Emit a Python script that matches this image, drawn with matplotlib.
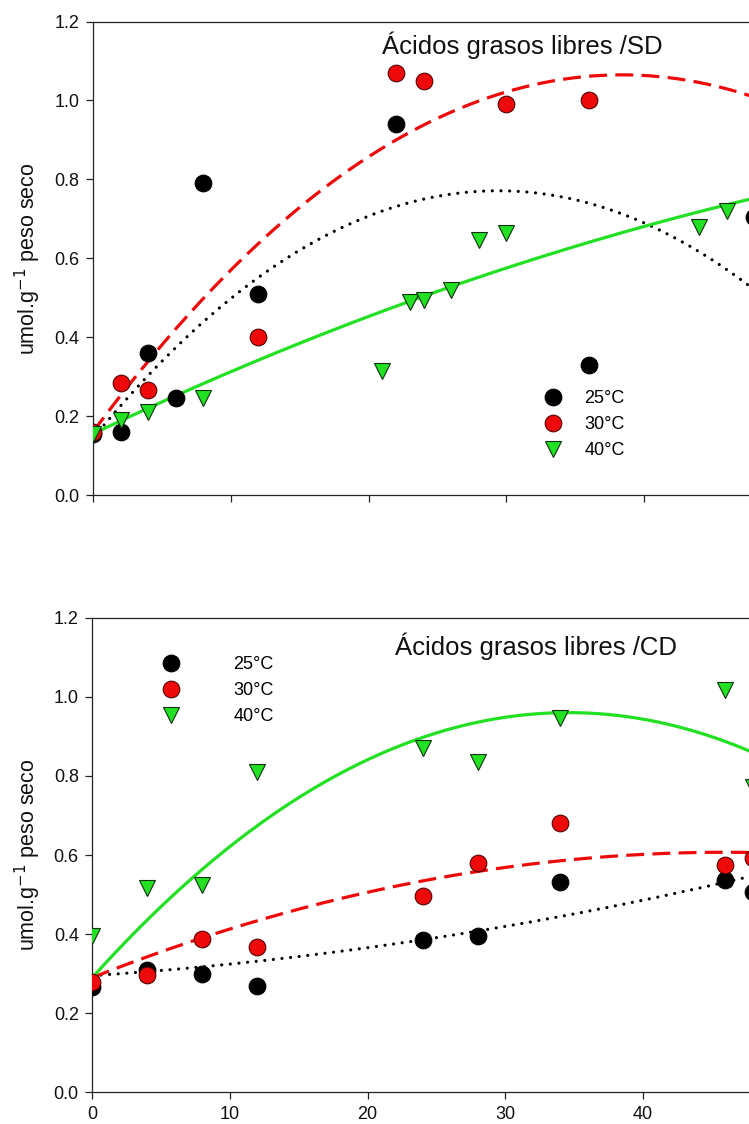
import numpy as np
import matplotlib
matplotlib.use("Agg")
import matplotlib.pyplot as plt
from matplotlib.lines import Line2D

plt.rcParams['font.family'] = ['Liberation Sans', 'DejaVu Sans']

# Free fatty acids (umol/g dry weight) vs time, SD treatment
hours_sd_25 = [0, 2, 4, 6, 8, 12, 22, 36, 48]
sd_25 = [0.155, 0.16, 0.36, 0.245, 0.79, 0.51, 0.94, 0.33, 0.705]
hours_sd_30 = [0, 2, 4, 12, 22, 24, 30, 36]
sd_30 = [0.16, 0.285, 0.265, 0.40, 1.07, 1.05, 0.99, 1.0]
hours_sd_40 = [0, 2, 4, 8, 21, 23, 24, 26, 28, 30, 44, 46]
sd_40 = [0.155, 0.19, 0.21, 0.245, 0.315, 0.49, 0.495, 0.52, 0.645, 0.665, 0.68, 0.72]

# CD treatment
hours_cd_25 = [0, 4, 8, 12, 24, 28, 34, 46, 48]
cd_25 = [0.265, 0.31, 0.30, 0.27, 0.385, 0.395, 0.532, 0.538, 0.506]
hours_cd_30 = [0, 4, 8, 12, 24, 28, 34, 46, 48]
cd_30 = [0.28, 0.297, 0.388, 0.367, 0.496, 0.579, 0.68, 0.575, 0.593]
hours_cd_40 = [0, 4, 8, 12, 24, 28, 34, 46, 48]
cd_40 = [0.395, 0.516, 0.524, 0.811, 0.87, 0.836, 0.946, 1.017, 0.773]

# Quadratic regression coefficients (a + b*x + c*x^2)
fit_sd_25 = [0.1435, 0.04269, -0.000726]
fit_sd_30 = [0.16, 0.04714, -0.000614]
fit_sd_40 = [0.155, 0.01661, -0.0000867]
fit_cd_25 = [0.295, 0.002296, 0.0000617]
fit_cd_30 = [0.29, 0.01378, -0.0001498]
fit_cd_40 = [0.29, 0.03874, -0.00056]

temps = ['25°C', '30°C', '40°C']
yticks = [0.0, 0.2, 0.4, 0.6, 0.8, 1.0, 1.2]
xticks = [0, 10, 20, 30, 40]

RED = '#EE0A0A'
GREEN = '#22E022'
SPINE = '#222222'

W, H = 749, 1124
fig = plt.figure(figsize=(W / 100, H / 100), dpi=100)

styles = [
    dict(marker='o', mfc='black', mec='black', line=dict(color='black', lw=2.3,
         linestyle=(0, (0.01, 2.7)), dash_capstyle='round')),
    dict(marker='o', mfc=RED, mec='#550000', line=dict(color=RED, lw=2.3,
         linestyle=(0, (5.6, 2.6)))),
    dict(marker='v', mfc=GREEN, mec='#103010', line=dict(color=GREEN, lw=2.3,
         linestyle='-')),
]


def poly(coef, x):
    return coef[0] + coef[1] * x + coef[2] * x ** 2


def panel(ax, series, fits, title, title_xy, legend_xy, textpad):
    xs = np.linspace(0, 52, 300)
    for (hx, hy), coef, st in zip(series, fits, styles):
        ax.plot(xs, poly(coef, xs), zorder=2, **st['line'])
        ax.plot(hx, hy, linestyle='none', marker=st['marker'], ms=12,
                mfc=st['mfc'], mec=st['mec'], mew=0.8, zorder=3)
    ax.set_xlim(0, 60)
    ax.set_ylim(0, 1.2)
    ax.set_xticks(xticks)
    ax.set_yticks(yticks)
    ax.set_yticklabels([f'{v:.1f}' for v in yticks])
    for side in ('left', 'bottom', 'top'):
        ax.spines[side].set_color(SPINE)
        ax.spines[side].set_linewidth(0.9)
    ax.spines['right'].set_visible(False)
    ax.tick_params(direction='out', length=5.2, width=0.9, color=SPINE,
                   labelsize=13, pad=4.5, labelcolor='#111111')
    ax.set_ylabel('umol.g$^{-1}$ peso seco', fontsize=15.5, color='#111111', labelpad=8)
    fig.text(title_xy[0] / W, 1 - title_xy[1] / H, title, fontsize=18.5,
             color='#111111', va='baseline', ha='left')
    handles = [Line2D([], [], linestyle='none', marker=st['marker'], ms=12,
                      mfc=st['mfc'], mec=st['mec'], mew=0.8) for st in styles]
    ax.legend(handles, temps, loc='center left',
              bbox_to_anchor=(legend_xy[0] / W, 1 - legend_xy[1] / H),
              bbox_transform=fig.transFigure, frameon=False, fontsize=13,
              handlelength=1.0, handletextpad=textpad, labelspacing=0.5,
              borderpad=0, borderaxespad=0)


ax_top = fig.add_axes([93 / W, (H - 495) / H, 60 * 13.78 / W, (495 - 21.5) / H])
panel(ax_top,
      [(hours_sd_25, sd_25), (hours_sd_30, sd_30), (hours_sd_40, sd_40)],
      [fit_sd_25, fit_sd_30, fit_sd_40],
      'Ácidos grasos libres /SD', (382, 54), (543.7, 424.5), 1.25)
ax_top.tick_params(axis='x', labelbottom=False)

ax_bot = fig.add_axes([92.3 / W, (H - 1092.3) / H, 60 * 13.76 / W, (1092.3 - 617.7) / H])
panel(ax_bot,
      [(hours_cd_25, cd_25), (hours_cd_30, cd_30), (hours_cd_40, cd_40)],
      [fit_cd_25, fit_cd_30, fit_cd_40],
      'Ácidos grasos libres /CD', (395, 655), (161.7, 690.5), 2.97)

fig.savefig('out.png', dpi=100)
